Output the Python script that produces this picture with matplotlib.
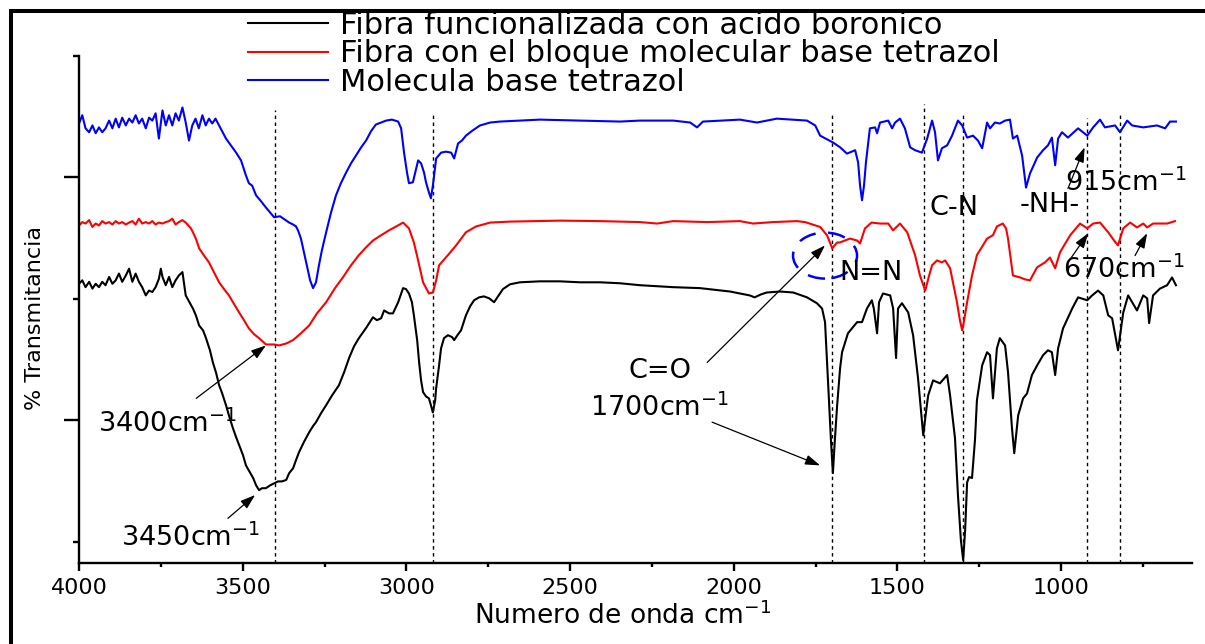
import matplotlib
matplotlib.use("Agg")
import matplotlib.pyplot as plt
from matplotlib.lines import Line2D
from matplotlib.patches import Ellipse
from matplotlib.ticker import MultipleLocator, FixedLocator

# Espectros FTIR: numero de onda (cm-1) y % transmitancia (escala relativa, con desplazamiento)

# Fibra funcionalizada con acido boronico (negro)
wn_boronico = [
    4000, 3990, 3980, 3969, 3959, 3949, 3939, 3929, 3919, 3908,
    3898, 3888, 3878, 3868, 3857, 3847, 3837, 3827, 3817, 3807,
    3796, 3786, 3776, 3766, 3756, 3750, 3745, 3735, 3725, 3715,
    3705, 3695, 3684, 3674,
    3652, 3643, 3633, 3621, 3612, 3600, 3591, 3581, 3572, 3563,
    3551, 3542, 3530, 3520, 3511, 3499, 3490, 3478, 3468, 3459,
    3450, 3441, 3429, 3416, 3404, 3392, 3380, 3367, 3358, 3346,
    3337, 3328, 3313, 3297, 3285, 3276, 3261, 3245, 3227, 3206,
    3190, 3175, 3160, 3145, 3123, 3102, 3090, 3077, 3068, 3053,
    3041, 3025, 3010, 3001, 2992, 2983, 2977, 2967, 2961, 2955,
    2949, 2940, 2931, 2925, 2919, 2912, 2909, 2900, 2894, 2885,
    2873, 2860, 2854, 2842, 2833, 2818, 2805, 2793, 2778, 2763,
    2747, 2732, 2720, 2705, 2683, 2653, 2592, 2531, 2469, 2408,
    2347, 2286, 2185, 2103, 2011, 1951, 1936, 1917, 1899, 1858,
    1818, 1776, 1746, 1730, 1721, 1715, 1709, 1703, 1697, 1691,
    1684, 1675, 1669, 1651, 1623, 1608, 1593, 1578, 1572, 1562,
    1556, 1544, 1522, 1513, 1504, 1498, 1486, 1467, 1452, 1437,
    1421, 1412, 1406, 1391, 1370, 1348, 1339, 1324, 1315, 1306,
    1299, 1293, 1287, 1281, 1272, 1263, 1257, 1241, 1226, 1217,
    1208, 1196, 1187, 1171, 1162, 1150, 1143, 1131, 1116, 1104,
    1089, 1073, 1055, 1040, 1028, 1018, 1009, 994, 966, 948,
    920, 905, 887, 871, 856, 844, 826, 810, 795, 768,
    749, 737, 731, 719, 698, 676, 661, 649,
]
t_boronico = [
    78.1, 78.8, 77.4, 78.5, 77.1, 78.1, 77.4, 78.5, 77.8, 79.5,
    78.1, 78.8, 80.2, 78.5, 79.8, 81.2, 78.5, 80.2, 78.5, 77.4,
    75.7, 76.7, 76.4, 77.4, 79.1, 81.2, 79.5, 77.8, 79.5, 77.4,
    78.8, 79.8, 80.5, 75.7,
    73.0, 71.6, 69.5, 68.5, 66.9, 64.4, 61.9, 59.7, 57.2, 55.6,
    53.1, 51.0, 48.4, 46.5, 44.9, 42.8, 40.7, 39.3, 38.1, 36.6,
    35.6, 36.0, 36.0, 36.6, 37.0, 37.4, 37.4, 37.7, 39.1, 40.1,
    41.8, 43.4, 45.5, 47.5, 48.8, 49.6, 51.4, 53.1, 55.1, 57.2,
    59.9, 62.8, 65.2, 66.9, 69.0, 71.2, 70.6, 71.0, 72.6, 72.0,
    72.0, 74.3, 77.2, 77.0, 76.1, 74.3, 71.6, 66.5, 61.9, 58.2,
    55.8, 54.9, 54.5, 53.1, 51.6, 54.1, 56.6, 61.3, 64.8, 66.9,
    67.5, 67.1, 66.5, 67.7, 68.5, 71.6, 73.5, 74.7, 75.3, 75.5,
    75.1, 74.3, 75.5, 77.0, 78.0, 78.4, 78.6, 78.6, 78.4, 78.4,
    78.2, 77.8, 77.4, 77.2, 76.5, 75.7, 75.3, 75.9, 76.3, 76.5,
    76.3, 75.3, 74.1, 73.0, 70.2, 62.3, 54.1, 45.9, 39.1, 45.9,
    53.1, 60.7, 64.0, 67.9, 70.2, 70.2, 73.0, 74.7, 73.0, 67.9,
    74.3, 76.1, 75.7, 73.0, 62.8, 73.0, 74.1, 72.2, 67.5, 58.7,
    46.9, 52.0, 55.1, 58.2, 57.6, 59.3, 55.1, 46.3, 34.6, 25.3,
    21.2, 27.4, 37.2, 38.3, 38.1, 45.9, 54.1, 61.3, 64.0, 63.4,
    54.5, 64.8, 66.9, 65.4, 59.9, 48.4, 43.2, 51.0, 54.5, 55.5,
    59.3, 61.3, 63.4, 64.4, 64.0, 59.3, 64.8, 68.9, 73.0, 75.3,
    74.7, 75.7, 76.7, 75.7, 71.6, 71.0, 64.4, 72.2, 75.7, 72.6,
    75.7, 75.1, 70.0, 75.7, 77.1, 77.8, 79.4, 77.8,
]

# Fibra con el bloque molecular base tetrazol (rojo)
wn_bloque = [
    4000, 3990, 3980, 3969, 3959, 3949, 3939, 3929, 3919, 3908,
    3898, 3888, 3878, 3868, 3857, 3847, 3837, 3827, 3817, 3807,
    3796, 3786, 3776, 3766, 3756, 3745, 3735, 3725, 3715, 3705,
    3695, 3684, 3674,
    3658, 3652, 3643, 3633, 3618, 3603, 3588, 3572, 3557, 3542,
    3526, 3511, 3496, 3481, 3465, 3450, 3429, 3404, 3389, 3367,
    3346, 3322, 3297, 3273, 3245, 3218, 3194, 3169, 3145, 3123,
    3102, 3077, 3053, 3031, 3010, 2992, 2977, 2964, 2949, 2931,
    2919, 2909, 2900, 2873, 2848, 2818, 2787, 2744, 2683, 2531,
    2408, 2286, 2234, 2185, 2081, 1981, 1941, 1880, 1807, 1782,
    1736, 1715, 1699, 1684, 1676, 1645, 1623, 1614, 1599, 1579,
    1553, 1528, 1513, 1501, 1492, 1470, 1446, 1431, 1415, 1403,
    1394, 1379, 1364, 1354, 1339, 1318, 1309, 1302, 1296, 1287,
    1272, 1257, 1226, 1208, 1196, 1178, 1168, 1162, 1153, 1147,
    1125, 1110, 1095, 1073, 1049, 1034, 1018, 1003, 972, 942,
    920, 902, 881, 856, 838, 826, 810, 789, 768, 749,
    737, 719, 676, 652,
]
t_bloque = [
    90.1, 90.8, 90.5, 91.2, 89.8, 90.5, 90.1, 91.0, 90.5, 90.8,
    90.3, 91.0, 90.5, 90.8, 90.3, 90.7, 91.0, 90.3, 91.5, 90.5,
    90.8, 90.5, 91.0, 90.3, 90.7, 90.5, 90.8, 91.0, 91.5, 90.3,
    90.8, 91.2, 90.7,
    89.5, 88.7, 87.4, 85.4, 83.9, 82.5, 80.5, 78.4, 77.0, 75.7,
    73.9, 72.2, 70.6, 68.9, 67.7, 66.9, 65.6, 65.6, 65.4, 65.8,
    66.5, 67.9, 69.5, 72.0, 74.3, 77.2, 79.4, 81.9, 84.0, 85.6,
    87.0, 88.1, 89.1, 89.9, 90.7, 89.5, 86.6, 82.9, 78.4, 76.1,
    76.3, 78.8, 81.9, 84.0, 86.0, 88.7, 89.9, 90.7, 90.9, 91.1,
    91.0, 90.8, 90.5, 91.0, 90.8, 91.0, 90.5, 90.8, 91.0, 90.8,
    89.8, 88.1, 85.4, 86.6, 86.6, 87.4, 87.0, 86.4, 89.5, 90.7,
    90.5, 90.5, 89.1, 89.9, 90.5, 88.7, 84.0, 79.8, 76.7, 79.8,
    81.9, 82.9, 82.5, 82.9, 81.3, 74.3, 70.6, 68.5, 70.6, 74.3,
    79.8, 84.0, 87.4, 88.1, 89.9, 90.5, 89.5, 87.4, 82.9, 79.8,
    79.4, 79.0, 78.8, 81.5, 82.5, 83.5, 81.3, 84.6, 88.1, 90.5,
    89.5, 90.5, 90.7, 88.7, 87.0, 86.0, 89.5, 90.7, 89.7, 90.5,
    89.7, 90.5, 90.5, 91.0,
]

# Molecula base tetrazol (azul)
wn_molecula = [
    4000, 3990, 3980, 3969, 3959, 3949, 3939, 3929, 3919, 3908,
    3898, 3888, 3878, 3868, 3857, 3847, 3837, 3827, 3817, 3807,
    3796, 3786, 3776, 3766, 3756, 3745, 3735, 3725, 3715, 3705,
    3695, 3684, 3674, 3664, 3654, 3644, 3634, 3623, 3613, 3603,
    3593, 3583, 3572,
    3551, 3536, 3520, 3505, 3490, 3481, 3471, 3459, 3444, 3429,
    3404, 3386, 3358, 3346, 3337, 3331, 3322, 3306, 3294, 3285,
    3276, 3267, 3258, 3245, 3230, 3215, 3200, 3184, 3169, 3154,
    3138, 3123, 3108, 3093, 3077, 3062, 3044, 3025, 3016, 3007,
    2998, 2992, 2980, 2970, 2964, 2955, 2946, 2940, 2931, 2925,
    2919, 2909, 2894, 2879, 2863, 2854, 2842, 2830, 2818, 2799,
    2775, 2744, 2714, 2592, 2469, 2347, 2286, 2185, 2133, 2112,
    2094, 1981, 1929, 1868, 1776, 1751, 1736, 1697, 1675, 1654,
    1629, 1620, 1614, 1608, 1602, 1596, 1584, 1568, 1562, 1553,
    1528, 1516, 1507, 1492, 1477, 1461, 1446, 1425, 1409, 1394,
    1385, 1376, 1364, 1348, 1333, 1315, 1302, 1287, 1269, 1254,
    1241, 1226, 1217, 1202, 1187, 1171, 1156, 1147, 1134, 1119,
    1107, 1095, 1073, 1055, 1040, 1028, 1018, 1009, 997, 979,
    948, 920, 902, 881, 866, 835, 820, 798, 783, 749,
    707, 682, 667, 649,
]
t_molecula = [
    111.1, 112.8, 110.1, 109.3, 110.7, 109.1, 110.3, 109.3, 110.1, 111.7,
    110.1, 112.1, 110.3, 112.3, 110.7, 112.1, 111.3, 112.8, 111.1, 112.1,
    110.1, 112.3, 111.7, 113.2, 108.0, 113.8, 110.7, 112.8, 110.7, 113.2,
    111.7, 114.4, 111.3, 107.6, 110.7, 112.1, 110.1, 112.8, 110.7, 112.1,
    111.1, 112.1, 110.7,
    108.0, 106.6, 105.1, 103.5, 100.4, 98.8, 98.3, 96.3, 95.1, 93.8,
    91.8, 92.0, 90.7, 90.3, 89.9, 89.1, 87.4, 82.5, 78.8, 77.2,
    78.4, 81.9, 85.0, 88.7, 92.8, 96.3, 98.8, 101.0, 102.9, 104.5,
    106.2, 107.6, 109.5, 110.9, 111.3, 111.7, 111.9, 111.5, 110.1, 105.1,
    101.0, 98.8, 99.0, 101.8, 103.5, 102.9, 101.0, 99.0, 96.9, 95.7,
    98.3, 103.9, 105.1, 105.3, 105.1, 103.9, 107.0, 107.6, 108.6, 109.6,
    110.7, 111.3, 111.5, 111.9, 111.7, 111.5, 111.7, 111.7, 111.3, 110.3,
    111.5, 111.9, 111.3, 112.1, 111.7, 110.7, 108.6, 107.2, 106.2, 104.9,
    105.6, 103.1, 98.3, 95.3, 98.3, 103.1, 110.1, 110.3, 109.1, 111.3,
    111.7, 110.1, 111.3, 112.1, 110.1, 106.2, 105.6, 105.1, 108.0, 111.7,
    109.3, 103.5, 106.0, 106.6, 108.6, 111.7, 110.7, 108.2, 108.6, 107.6,
    106.0, 111.3, 110.1, 111.3, 111.1, 111.7, 111.9, 108.0, 108.6, 104.5,
    97.9, 100.8, 104.1, 105.6, 106.6, 108.2, 102.5, 108.0, 109.3, 108.2,
    110.1, 108.6, 110.3, 111.9, 110.3, 110.7, 109.3, 111.7, 110.7, 110.3,
    110.7, 110.1, 111.5, 111.5,
]

etiquetas = [
    "Fibra funcionalizada con acido boronico",
    "Fibra con el bloque molecular base tetrazol",
    "Molecula base tetrazol",
]

# lineas punteadas de referencia
picos = [3400, 2920, 1700, 1420, 1300, 920, 820]
picos_tope = [113.8, 113.2, 113.2, 115.2, 113.2, 112.3, 113.2]

Y_MIN, Y_MAX = 20.6, 125.0

fig = plt.figure(figsize=(12.05, 6.44), dpi=100)
ax = fig.add_axes([79 / 1205, 81 / 644, 1113 / 1205, 507 / 644])

l1, = ax.plot(wn_boronico, t_boronico, color="black", lw=1.5)
l2, = ax.plot(wn_bloque, t_bloque, color="#ff0000", lw=1.5)
l3, = ax.plot(wn_molecula, t_molecula, color="#0000ff", lw=1.5)

ax.vlines(picos, Y_MIN, picos_tope, colors="black", lw=1.0, linestyles=(0, (2.5, 2.5)), zorder=1)

ax.set_xlim(4000, 600)
ax.set_ylim(Y_MIN, Y_MAX)
ax.xaxis.set_major_locator(MultipleLocator(500))
ax.xaxis.set_minor_locator(MultipleLocator(250))
ax.yaxis.set_major_locator(FixedLocator([50, 100]))
ax.yaxis.set_minor_locator(FixedLocator([25, 75, 125]))

for s in ["top", "right"]:
    ax.spines[s].set_visible(False)
for s in ["left", "bottom"]:
    ax.spines[s].set_linewidth(1.7)

ax.tick_params(axis="x", which="major", direction="out", length=6, width=1.7, labelsize=16, pad=4.5)
ax.tick_params(axis="x", which="minor", direction="out", length=3, width=1.7)
ax.tick_params(axis="y", which="major", direction="out", length=10.5, width=1.7, labelleft=False)
ax.tick_params(axis="y", which="minor", direction="out", length=4.5, width=1.7)

ax.set_xlabel("Numero de onda cm$^{-1}$", fontsize=19, va="baseline")
ax.xaxis.set_label_coords(0.488, -0.1195)
ax.set_ylabel("% Transmitancia", fontsize=16, va="center")
ax.yaxis.set_label_coords(-0.0395, 0.483)

ax.legend([l1, l2, l3], etiquetas, loc="upper left",
          bbox_to_anchor=(248 / 1205, 1 - 11 / 644), bbox_transform=fig.transFigure,
          frameon=False, fontsize=22, handlelength=2.62, handletextpad=0.4,
          labelspacing=-0.02, borderpad=0, borderaxespad=0)

# anotaciones
flecha = dict(arrowstyle="-|>,head_length=0.6,head_width=0.2", color="black",
              lw=0.9, mutation_scale=15, shrinkA=0, shrinkB=0)
fs = 19.5
ax.text(3729, 47.6, "3400cm$^{-1}$", fontsize=fs, ha="center", va="baseline")
ax.annotate("", xy=(3429, 65.4), xytext=(3642, 54.5), arrowprops=flecha)
ax.text(3661, 24.0, "3450cm$^{-1}$", fontsize=fs, ha="center", va="baseline")
ax.annotate("", xy=(3462, 34.6), xytext=(3545, 29.8), arrowprops=flecha)
ax.text(2225, 58.7, "C=O", fontsize=fs, ha="center", va="baseline")
ax.annotate("", xy=(1721, 86.0), xytext=(2081, 61.9), arrowprops=flecha)
ax.text(2228, 50.9, "1700cm$^{-1}$", fontsize=fs, ha="center", va="baseline")
ax.annotate("", xy=(1736, 40.7), xytext=(2066, 49.6), arrowprops=flecha)
ax.text(1580, 78.9, "N=N", fontsize=fs, ha="center", va="baseline")
ax.text(1327, 92.2, "C-N", fontsize=fs, ha="center", va="baseline")
ax.text(1034, 92.9, "-NH-", fontsize=fs, ha="center", va="baseline")
ax.text(801, 97.3, "915cm$^{-1}$", fontsize=fs, ha="center", va="baseline")
ax.annotate("", xy=(928, 106.2), xytext=(979, 97.7), arrowprops=flecha)
ax.text(807, 79.2, "670cm$^{-1}$", fontsize=fs, ha="center", va="baseline")
ax.annotate("", xy=(917, 88.5), xytext=(979, 82.5), arrowprops=flecha)
ax.annotate("", xy=(737, 88.5), xytext=(774, 83.9), arrowprops=flecha)

ax.add_patch(Ellipse((1721, 83.9), 195.5, 9.47, fill=False, edgecolor="#0000ff",
                     lw=1.8, linestyle=(0, (7, 5))))

# marco exterior (solo izquierda y arriba visibles)
fig.add_artist(Line2D([10.5 / 1205, 10.5 / 1205, 1.0], [0.0, 1 - 11.3 / 644, 1 - 11.3 / 644],
                      transform=fig.transFigure, color="black", lw=2.9, solid_joinstyle="miter"))

fig.savefig("out.png", dpi=100)
